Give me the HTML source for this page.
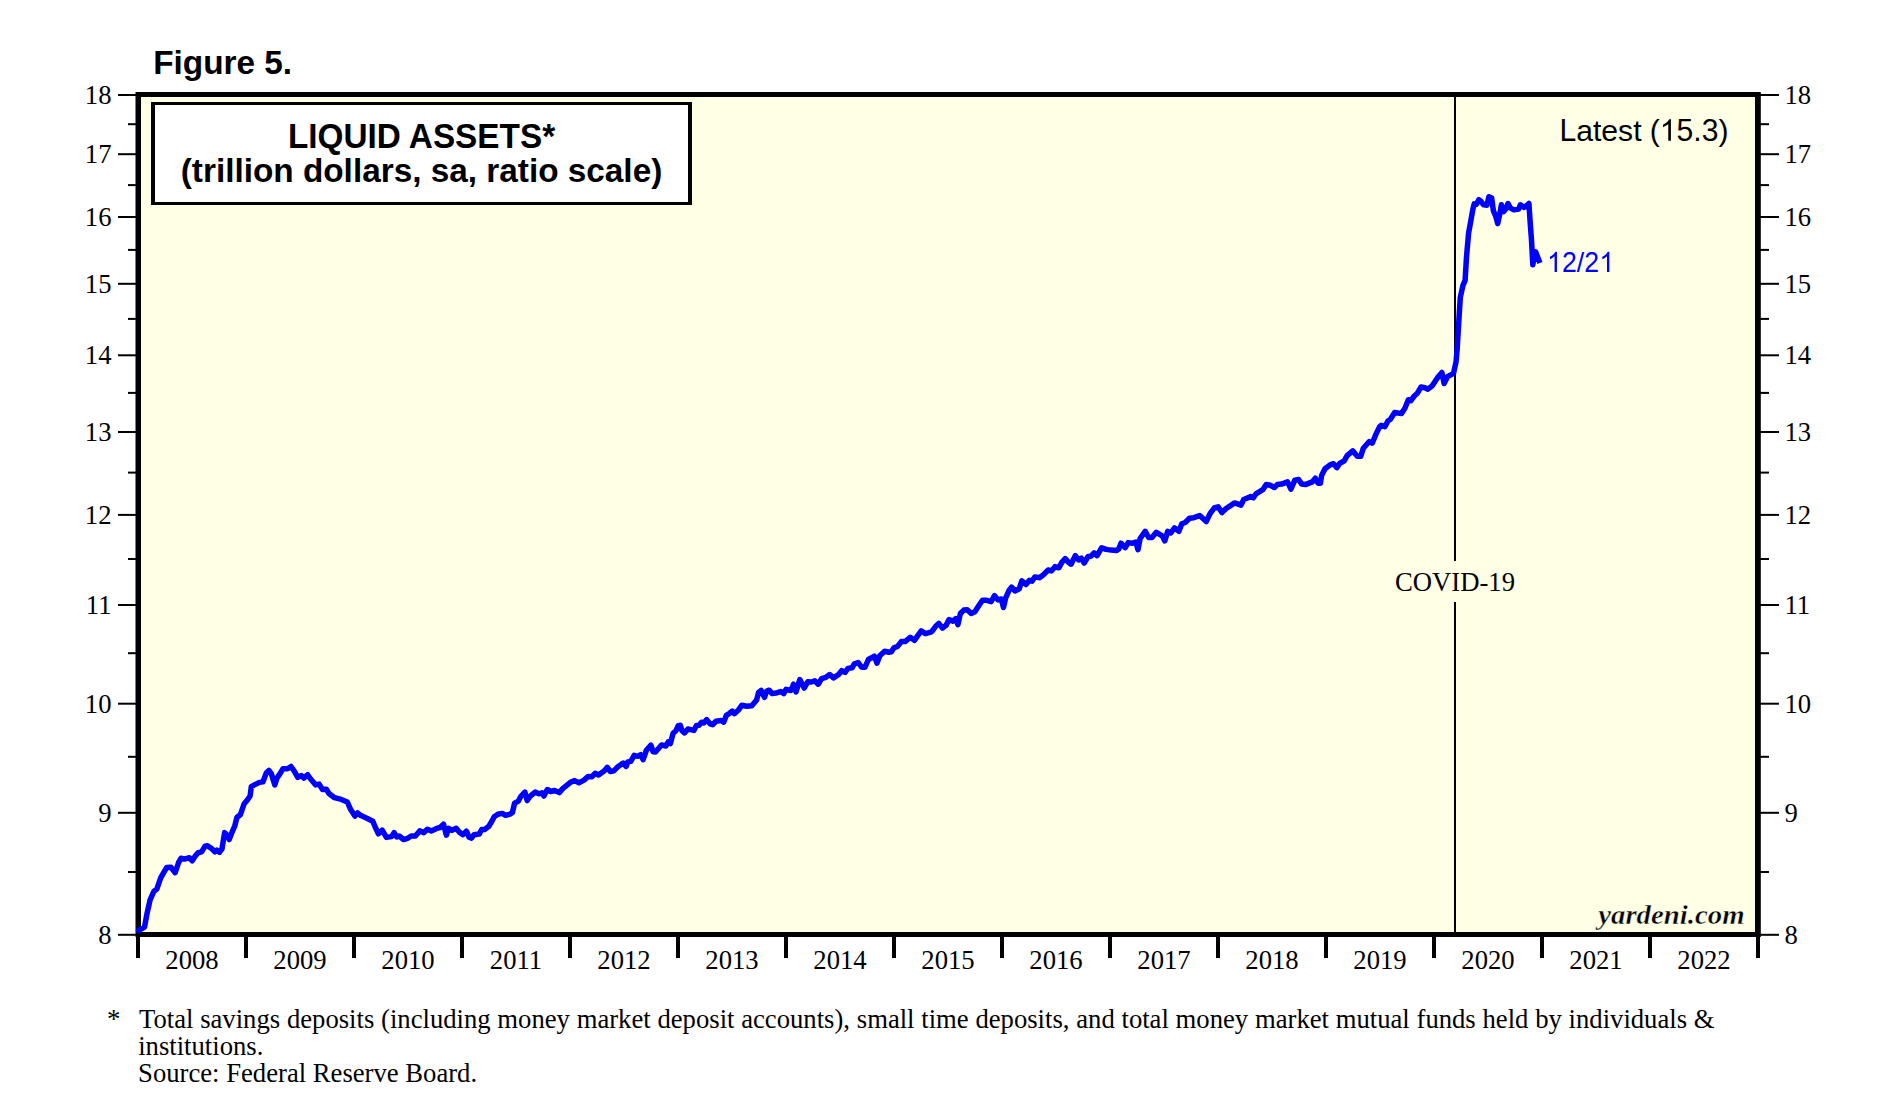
<!DOCTYPE html>
<html><head><meta charset="utf-8"><title>Figure 5. Liquid Assets</title>
<style>
html,body{margin:0;padding:0;background:#fff;}
body{width:1878px;height:1111px;overflow:hidden;font-family:"Liberation Sans",sans-serif;}
svg{display:block;position:absolute;left:0;top:0;}
.ser{font-family:"Liberation Serif",serif;}
.san{font-family:"Liberation Sans",sans-serif;}
</style></head><body>
<svg width="1878" height="1111" viewBox="0 0 1878 1111">
<rect x="0" y="0" width="1878" height="1111" fill="#ffffff"/>
<rect x="135.5" y="92" width="1625.3" height="845" fill="#000"/>
<rect x="141" y="97" width="1614" height="835" fill="#ffffe6"/>
<g fill="#000">
<rect x="118" y="933.8" width="19" height="2"/><rect x="1760" y="933.8" width="19" height="2"/>
<rect x="118" y="811.8" width="19" height="2"/><rect x="1760" y="811.8" width="19" height="2"/>
<rect x="118" y="702.7" width="19" height="2"/><rect x="1760" y="702.7" width="19" height="2"/>
<rect x="118" y="604.0" width="19" height="2"/><rect x="1760" y="604.0" width="19" height="2"/>
<rect x="118" y="513.9" width="19" height="2"/><rect x="1760" y="513.9" width="19" height="2"/>
<rect x="118" y="431.0" width="19" height="2"/><rect x="1760" y="431.0" width="19" height="2"/>
<rect x="118" y="354.3" width="19" height="2"/><rect x="1760" y="354.3" width="19" height="2"/>
<rect x="118" y="282.8" width="19" height="2"/><rect x="1760" y="282.8" width="19" height="2"/>
<rect x="118" y="216.0" width="19" height="2"/><rect x="1760" y="216.0" width="19" height="2"/>
<rect x="118" y="153.2" width="19" height="2"/><rect x="1760" y="153.2" width="19" height="2"/>
<rect x="118" y="94.0" width="19" height="2"/><rect x="1760" y="94.0" width="19" height="2"/>
<rect x="128" y="871.0" width="9" height="2"/><rect x="1760" y="871.0" width="9" height="2"/>
<rect x="128" y="755.8" width="9" height="2"/><rect x="1760" y="755.8" width="9" height="2"/>
<rect x="128" y="652.2" width="9" height="2"/><rect x="1760" y="652.2" width="9" height="2"/>
<rect x="128" y="558.0" width="9" height="2"/><rect x="1760" y="558.0" width="9" height="2"/>
<rect x="128" y="471.6" width="9" height="2"/><rect x="1760" y="471.6" width="9" height="2"/>
<rect x="128" y="391.9" width="9" height="2"/><rect x="1760" y="391.9" width="9" height="2"/>
<rect x="128" y="317.9" width="9" height="2"/><rect x="1760" y="317.9" width="9" height="2"/>
<rect x="128" y="248.9" width="9" height="2"/><rect x="1760" y="248.9" width="9" height="2"/>
<rect x="128" y="184.1" width="9" height="2"/><rect x="1760" y="184.1" width="9" height="2"/>
<rect x="128" y="123.2" width="9" height="2"/><rect x="1760" y="123.2" width="9" height="2"/>
<rect x="136" y="936" width="4" height="22"/><rect x="244" y="936" width="4" height="22"/><rect x="352" y="936" width="4" height="22"/><rect x="460" y="936" width="4" height="22"/><rect x="568" y="936" width="4" height="22"/><rect x="676" y="936" width="4" height="22"/><rect x="784" y="936" width="4" height="22"/><rect x="892" y="936" width="4" height="22"/><rect x="1000" y="936" width="4" height="22"/><rect x="1108" y="936" width="4" height="22"/><rect x="1216" y="936" width="4" height="22"/><rect x="1324" y="936" width="4" height="22"/><rect x="1432" y="936" width="4" height="22"/><rect x="1540" y="936" width="4" height="22"/><rect x="1648" y="936" width="4" height="22"/><rect x="1756" y="936" width="4" height="22"/>
</g>
<g class="ser" font-size="26.67" fill="#000">
<text x="111.5" y="943.8" text-anchor="end">8</text><text x="1784.4" y="943.8">8</text>
<text x="111.5" y="821.8" text-anchor="end">9</text><text x="1784.4" y="821.8">9</text>
<text x="111.5" y="712.7" text-anchor="end">10</text><text x="1784.4" y="712.7">10</text>
<text x="111.5" y="614.0" text-anchor="end">11</text><text x="1784.4" y="614.0">11</text>
<text x="111.5" y="523.9" text-anchor="end">12</text><text x="1784.4" y="523.9">12</text>
<text x="111.5" y="441.0" text-anchor="end">13</text><text x="1784.4" y="441.0">13</text>
<text x="111.5" y="364.3" text-anchor="end">14</text><text x="1784.4" y="364.3">14</text>
<text x="111.5" y="292.8" text-anchor="end">15</text><text x="1784.4" y="292.8">15</text>
<text x="111.5" y="226.0" text-anchor="end">16</text><text x="1784.4" y="226.0">16</text>
<text x="111.5" y="163.2" text-anchor="end">17</text><text x="1784.4" y="163.2">17</text>
<text x="111.5" y="104.0" text-anchor="end">18</text><text x="1784.4" y="104.0">18</text>
<text x="192" y="969" text-anchor="middle">2008</text><text x="300" y="969" text-anchor="middle">2009</text><text x="408" y="969" text-anchor="middle">2010</text><text x="516" y="969" text-anchor="middle">2011</text><text x="624" y="969" text-anchor="middle">2012</text><text x="732" y="969" text-anchor="middle">2013</text><text x="840" y="969" text-anchor="middle">2014</text><text x="948" y="969" text-anchor="middle">2015</text><text x="1056" y="969" text-anchor="middle">2016</text><text x="1164" y="969" text-anchor="middle">2017</text><text x="1272" y="969" text-anchor="middle">2018</text><text x="1380" y="969" text-anchor="middle">2019</text><text x="1488" y="969" text-anchor="middle">2020</text><text x="1596" y="969" text-anchor="middle">2021</text><text x="1704" y="969" text-anchor="middle">2022</text>
</g>
<rect x="1454" y="97" width="2" height="836" fill="#000"/>
<rect x="1390" y="561" width="130" height="41" fill="#ffffe6"/>
<text class="ser" x="1455" y="591" font-size="26.67" text-anchor="middle" fill="#000">COVID-19</text>
<polyline fill="none" stroke="#0000ff" stroke-width="5.5" stroke-linejoin="round" stroke-linecap="butt" points="138.5,930.6 144.5,927.2 147.0,913.6 150.1,899.9 153.9,891.4 156.9,888.9 160.7,877.8 164.1,871.8 166.6,867.6 170.9,867.2 175.2,872.7 178.6,862.5 181.1,858.2 184.5,859.1 189.3,857.7 192.2,860.8 195.6,855.6 198.2,852.7 201.6,851.9 205.0,846.3 207.5,845.8 211.8,848.8 214.9,851.9 216.9,850.2 219.5,852.2 222.0,848.8 224.6,832.6 226.3,834.3 229.2,839.5 232.2,831.8 234.8,825.8 237.0,817.3 240.4,814.7 244.2,803.7 246.7,800.8 250.1,796.0 251.3,786.6 254.4,784.9 259.5,782.4 262.9,781.9 266.3,773.0 268.9,770.4 271.4,773.9 274.8,784.9 276.9,778.1 279.9,773.9 283.0,768.7 287.6,768.7 291.0,766.5 294.4,771.3 297.8,777.3 301.2,775.6 303.8,778.1 307.6,774.7 310.6,779.0 315.7,784.9 319.1,784.1 322.5,789.5 326.3,789.2 329.0,793.5 334.5,797.7 341.3,799.4 347.3,802.0 350.7,809.6 354.9,816.1 357.5,813.0 360.9,815.6 366.8,818.2 372.8,821.2 375.4,827.5 378.4,833.8 382.2,830.1 386.4,837.4 391.6,836.6 394.1,832.6 396.7,836.9 399.2,836.0 403.5,839.5 407.7,838.3 411.2,836.0 415.4,836.0 419.7,830.9 423.9,832.6 427.3,829.2 431.3,830.9 436.7,828.4 440.1,827.5 443.5,824.1 446.4,835.2 448.6,828.4 451.9,830.4 456.2,828.3 459.6,832.4 463.0,834.7 466.4,831.2 469.0,837.2 471.5,838.1 474.1,834.7 479.2,834.1 481.7,829.5 484.6,829.5 488.6,826.6 492.0,821.0 494.2,816.8 497.9,814.2 502.2,813.4 505.6,815.4 509.9,814.2 512.4,812.5 514.6,803.1 518.4,801.1 520.9,796.3 524.9,792.1 527.2,800.6 530.0,796.3 535.1,792.1 538.8,793.8 541.9,792.9 543.9,796.0 547.3,789.5 550.8,791.5 554.5,790.4 559.3,792.6 562.7,788.6 570.4,782.3 574.6,780.6 578.9,782.7 584.0,780.1 588.2,776.4 592.0,776.7 595.1,773.3 598.5,775.0 604.4,770.8 607.3,767.3 610.4,771.6 613.8,770.8 617.2,767.3 623.2,763.1 626.1,766.5 627.8,761.9 630.8,761.4 634.2,755.4 637.7,756.3 640.7,754.6 643.1,759.7 646.5,750.0 650.9,745.2 653.0,751.7 655.5,752.0 661.5,744.9 665.8,746.0 668.3,741.8 670.4,743.5 673.1,733.3 676.0,730.7 678.2,725.6 680.3,725.3 682.0,730.7 684.5,732.9 687.9,729.0 693.9,730.4 696.4,725.6 699.0,725.3 701.6,722.2 703.8,723.0 706.7,719.6 710.1,723.9 712.6,724.7 716.0,721.3 721.2,720.5 723.7,722.2 726.3,715.4 729.7,713.2 732.2,711.1 734.4,713.7 738.2,710.3 741.9,705.2 746.7,706.3 751.8,705.7 756.6,700.0 758.6,692.4 761.1,690.5 764.5,697.3 766.7,691.0 769.1,690.2 772.2,693.6 777.3,692.7 780.7,691.5 783.7,693.6 786.1,689.3 790.9,690.5 793.5,684.2 796.0,691.9 799.8,679.6 804.2,688.1 807.9,681.7 811.3,682.0 814.7,680.8 818.2,684.2 821.6,678.6 825.8,677.4 829.7,674.5 833.5,677.9 838.6,674.5 841.7,670.6 845.1,672.3 848.0,668.4 852.2,667.7 854.3,663.8 858.2,662.6 861.6,667.2 865.0,667.2 868.4,659.5 874.4,656.1 876.9,663.2 879.8,655.8 884.6,651.3 888.9,652.3 891.4,651.8 894.0,647.6 897.4,646.7 901.3,641.6 905.1,641.6 910.2,637.3 914.4,640.4 917.8,635.6 921.2,630.9 925.5,633.6 931.5,631.9 935.7,626.3 938.8,623.4 942.5,628.0 946.0,625.4 949.0,619.5 952.8,621.2 955.8,618.6 957.9,624.6 960.4,613.5 963.8,610.1 967.3,609.7 971.2,613.5 974.9,611.8 979.2,605.0 982.6,600.2 986.0,600.2 991.1,601.6 994.5,595.6 997.9,599.9 1001.3,599.0 1003.5,607.5 1005.6,598.2 1009.0,590.5 1011.6,587.1 1015.0,591.0 1019.2,588.8 1021.8,580.8 1026.0,584.5 1029.4,580.3 1032.0,581.1 1034.9,576.9 1039.7,577.7 1043.9,574.3 1048.2,570.0 1051.6,570.9 1055.0,566.6 1058.8,567.8 1061.8,562.4 1065.2,558.6 1068.6,562.4 1071.1,564.2 1075.3,555.7 1078.7,559.9 1081.3,558.2 1084.2,563.0 1088.1,556.5 1091.0,556.2 1094.1,552.8 1097.1,555.7 1101.7,547.7 1106.0,549.4 1111.1,550.1 1116.2,550.6 1118.8,548.9 1121.0,543.2 1125.1,547.7 1128.2,542.6 1132.4,543.2 1135.8,542.1 1138.0,549.7 1140.1,538.6 1145.2,531.3 1148.6,537.5 1152.0,537.5 1156.3,532.3 1162.2,535.8 1164.8,540.9 1167.7,531.3 1170.8,533.0 1174.5,527.9 1178.9,531.3 1181.8,523.8 1185.2,522.5 1189.5,518.2 1193.8,517.7 1199.7,515.6 1206.2,521.6 1209.9,513.9 1214.2,508.0 1218.1,506.8 1221.9,512.6 1226.1,508.5 1234.7,502.9 1241.0,505.1 1243.7,499.5 1250.8,496.6 1253.4,497.8 1256.0,493.8 1262.8,489.7 1266.2,484.6 1269.6,485.0 1274.4,487.5 1277.3,484.6 1281.5,484.1 1287.5,481.9 1290.9,489.2 1294.8,480.2 1298.6,479.5 1301.6,484.1 1305.4,484.6 1312.2,481.9 1315.3,478.2 1318.1,483.3 1320.4,483.3 1321.6,475.6 1325.0,468.8 1330.1,464.9 1333.5,463.7 1336.9,467.6 1339.4,463.7 1344.2,460.8 1347.1,455.7 1352.7,450.9 1357.3,456.3 1360.7,456.3 1363.3,448.3 1369.3,441.5 1372.2,443.2 1376.1,433.9 1379.5,427.0 1381.1,425.3 1385.0,426.6 1387.9,421.0 1390.4,419.3 1394.7,412.5 1398.1,413.0 1401.5,413.4 1404.9,408.2 1408.3,399.7 1410.9,400.6 1414.0,396.3 1417.4,393.2 1421.1,386.9 1424.9,387.8 1427.9,389.2 1432.2,385.8 1438.2,376.7 1441.9,372.5 1444.1,383.5 1447.5,376.7 1453.5,373.3 1456.0,362.2 1457.2,348.6 1458.6,324.7 1460.3,297.5 1462.9,285.6 1465.1,280.4 1466.5,257.0 1468.6,233.0 1470.8,221.0 1472.9,209.1 1474.2,203.9 1476.3,204.4 1478.9,199.7 1481.0,201.4 1483.6,204.8 1487.0,205.2 1488.9,196.7 1491.7,198.0 1493.4,210.8 1495.6,215.9 1497.7,223.6 1499.9,213.4 1501.4,204.8 1503.7,211.6 1505.8,209.1 1508.0,203.5 1510.1,207.8 1514.0,209.9 1518.7,209.1 1520.4,204.8 1524.2,207.4 1526.4,205.7 1528.9,203.5 1530.2,222.8 1531.5,239.9 1532.8,264.7 1534.1,257.0 1535.6,251.8 1539.9,263.0"/>
<circle cx="138.6" cy="930.5" r="2.75" fill="#0000ff"/>
<rect x="151" y="102" width="541" height="103" fill="#000"/>
<rect x="155" y="105" width="533" height="97" fill="#fff"/>
<g class="san" font-size="33.33" font-weight="bold" fill="#000" text-anchor="middle">
<text transform="translate(421.5,148) scale(1,1.035)" x="0" y="0">LIQUID ASSETS*</text>
<text x="421.5" y="182">(trillion dollars, sa, ratio scale)</text>
</g>
<text class="san" x="153.2" y="74" font-size="33.33" font-weight="bold" fill="#000">Figure 5.</text>
<g fill="#000">
<text class="san" transform="translate(1559.5,140.7) scale(1,1.07)" x="0" y="0" font-size="30.1">L</text>
<text class="san" x="1576.25" y="140.7" font-size="30.1">atest (</text>
<path transform="translate(1659.7,140.7) scale(0.014697,-0.014538)" d="M763 0L583 0L583 1147Q518 1085 412.5 1023Q307 961 223 930L223 1104Q374 1175 487 1276Q600 1377 647 1472L763 1472Z"/>
<text class="san" transform="translate(1676.61,140.7) scale(1,1.07)" x="0" y="0" font-size="30.1">5.3</text>
<text class="san" x="1718.44" y="140.7" font-size="30.1">)</text>
</g>
<g fill="#0000ff">
<path transform="translate(1547,272) scale(0.0130225,-0.01379)" d="M763 0L583 0L583 1147Q518 1085 412.5 1023Q307 961 223 930L223 1104Q374 1175 487 1276Q600 1377 647 1472L763 1472Z"/>
<text class="san" transform="translate(1561.9,272) scale(1,1.085)" x="0" y="0" font-size="26.67">2</text>
<text class="san" transform="translate(1576.73,272) scale(1,1.055)" x="0" y="0" font-size="26.67">/</text>
<text class="san" transform="translate(1584.14,272) scale(1,1.085)" x="0" y="0" font-size="26.67">2</text>
<path transform="translate(1599.4,272) scale(0.0130225,-0.01379)" d="M763 0L583 0L583 1147Q518 1085 412.5 1023Q307 961 223 930L223 1104Q374 1175 487 1276Q600 1377 647 1472L763 1472Z"/>
</g>
<text class="ser" transform="translate(1744.6,923.6) scale(1.08,1)" x="0" y="0" font-size="26.67" font-weight="bold" font-style="italic" text-anchor="end" fill="#000" stroke="#ffffe6" stroke-width="0.4">yardeni.com</text>
<g class="ser" font-size="26.67" fill="#000">
<text x="107" y="1027.7">*</text>
<text x="139" y="1027.7" word-spacing="0.1">Total savings deposits (including money market deposit accounts), small time deposits, and total money market mutual funds held by individuals &amp;</text>
<text x="138.2" y="1055.2">institutions.</text>
<text x="138.1" y="1082">Source: Federal Reserve Board.</text>
</g>
</svg>
</body></html>
